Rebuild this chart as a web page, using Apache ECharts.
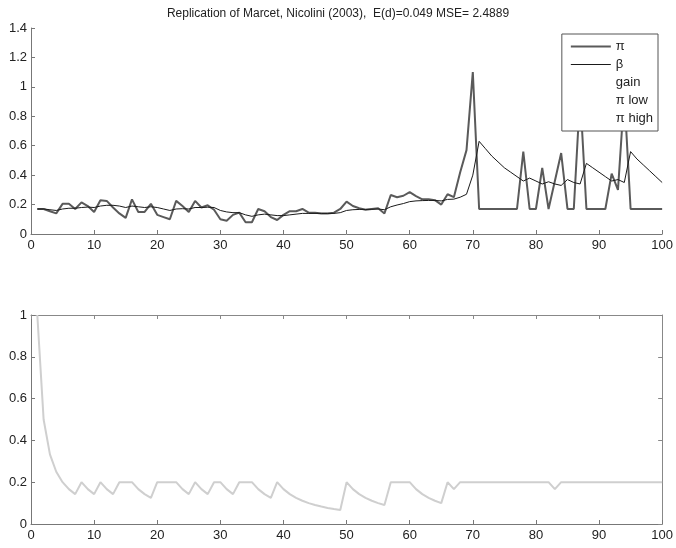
<!DOCTYPE html>
<html>
<head>
<meta charset="utf-8">
<script src="https://cdn.jsdelivr.net/npm/echarts@6/dist/echarts.min.js"></script>
<style>
html,body{margin:0;padding:0;background:#fff;}
#c{width:676px;height:548px;}
</style>
</head>
<body>
<div id="c"></div>
<script>
const titleText = 'Replication of Marcet, Nicolini (2003),  E(d)=0.049 MSE= 2.4889';
const legendNames = ['π', 'β', 'gain', 'π low', 'π high'];
const xTicks = [0, 10, 20, 30, 40, 50, 60, 70, 80, 90, 100];
const topYTicks = [0, 0.2, 0.4, 0.6, 0.8, 1, 1.2, 1.4];
const bottomYTicks = [0, 0.2, 0.4, 0.6, 0.8, 1];

const periods = Array.from({length: 100}, (_, i) => i + 1);

const piValues = [
  0.17, 0.17, 0.155, 0.14, 0.205, 0.205, 0.17, 0.215, 0.19, 0.15,
  0.23, 0.225, 0.18, 0.14, 0.11, 0.235, 0.15, 0.15, 0.205, 0.13,
  0.115, 0.10, 0.225, 0.19, 0.15, 0.225, 0.18, 0.195, 0.165, 0.10,
  0.09, 0.13, 0.145, 0.08, 0.08, 0.17, 0.155, 0.115, 0.095, 0.13,
  0.155, 0.155, 0.17, 0.145, 0.145, 0.14, 0.14, 0.145, 0.17, 0.22,
  0.19, 0.175, 0.165, 0.17, 0.175, 0.14, 0.265, 0.25, 0.26, 0.285,
  0.258, 0.236, 0.236, 0.23, 0.20, 0.27, 0.25, 0.42, 0.57, 1.10,
  0.17, 0.17, 0.17, 0.17, 0.17, 0.17, 0.17, 0.56, 0.17, 0.17,
  0.45, 0.17, 0.36, 0.55, 0.17, 0.17, 0.95, 0.17, 0.17, 0.17,
  0.17, 0.41, 0.30, 0.95, 0.17, 0.17, 0.17, 0.17, 0.17, 0.17
];

const betaValues = [
  0.17, 0.17, 0.165, 0.16, 0.17, 0.175, 0.175, 0.18, 0.183, 0.18,
  0.19, 0.195, 0.195, 0.19, 0.18, 0.19, 0.185, 0.18, 0.185, 0.18,
  0.17, 0.16, 0.17, 0.172, 0.17, 0.18, 0.18, 0.182, 0.18, 0.16,
  0.15, 0.145, 0.145, 0.13, 0.12, 0.13, 0.135, 0.13, 0.125, 0.125,
  0.13, 0.135, 0.14, 0.14, 0.14, 0.14, 0.14, 0.14, 0.145, 0.16,
  0.165, 0.167, 0.167, 0.168, 0.17, 0.165, 0.185, 0.197, 0.207, 0.22,
  0.225, 0.227, 0.228, 0.228, 0.225, 0.235, 0.237, 0.25, 0.27, 0.40,
  0.63, 0.58, 0.53, 0.49, 0.45, 0.42, 0.39, 0.36, 0.38, 0.36,
  0.34, 0.355, 0.34, 0.33, 0.37, 0.35, 0.34, 0.48, 0.45, 0.42,
  0.39, 0.36, 0.37, 0.35, 0.56, 0.51, 0.47, 0.43, 0.39, 0.35
];

const gainValues = [
  1.0, 0.5, 0.333, 0.25, 0.2, 0.1667, 0.1429, 0.2, 0.1667, 0.1429,
  0.2, 0.1667, 0.1429, 0.2, 0.2, 0.2, 0.1667, 0.1429, 0.125, 0.2,
  0.2, 0.2, 0.2, 0.1667, 0.1429, 0.2, 0.1667, 0.1429, 0.2, 0.2,
  0.1667, 0.1429, 0.2, 0.2, 0.2, 0.1667, 0.1429, 0.125, 0.2, 0.1667,
  0.1429, 0.125, 0.1111, 0.1, 0.0909, 0.0833, 0.0769, 0.0714, 0.0667, 0.2,
  0.1667, 0.1429, 0.125, 0.1111, 0.1, 0.0909, 0.2, 0.2, 0.2, 0.2,
  0.1667, 0.1429, 0.125, 0.1111, 0.1, 0.2, 0.1667, 0.2, 0.2, 0.2,
  0.2, 0.2, 0.2, 0.2, 0.2, 0.2, 0.2, 0.2, 0.2, 0.2,
  0.2, 0.2, 0.1667, 0.2, 0.2, 0.2, 0.2, 0.2, 0.2, 0.2,
  0.2, 0.2, 0.2, 0.2, 0.2, 0.2, 0.2, 0.2, 0.2, 0.2
];

const piLowValues = [];
const piHighValues = [];

const pair = (xs, ys) => xs.map((x, i) => [x, ys[i]]);

const FONT = 'Liberation Sans, Arial, Helvetica, sans-serif';
const labelStyle = {color: '#222', fontSize: 13, fontFamily: FONT};

function xAxisCfg(gridIndex, pos, showLabels, lineColor) {
  return {
    type: 'value', gridIndex, position: pos,
    min: xTicks[0], max: xTicks[xTicks.length - 1], interval: 10,
    axisLine: {show: true, onZero: false, lineStyle: {color: lineColor, width: 1}},
    axisTick: {show: true, inside: true, length: 4, lineStyle: {color: lineColor}},
    axisLabel: Object.assign({show: showLabels, margin: 5}, labelStyle),
    splitLine: {show: false}
  };
}
function yAxisCfg(gridIndex, pos, ticks, showLabels, lineColor) {
  return {
    type: 'value', gridIndex, position: pos,
    min: ticks[0], max: ticks[ticks.length - 1], interval: 0.2,
    axisLine: {show: true, onZero: false, lineStyle: {color: lineColor, width: 1}},
    axisTick: {show: true, inside: true, length: 4, lineStyle: {color: lineColor}},
    axisLabel: Object.assign({show: showLabels, margin: 4}, labelStyle),
    splitLine: {show: false}
  };
}

const chart = echarts.init(document.getElementById('c'), null, {renderer: 'canvas'});
chart.setOption({
  animation: false,
  backgroundColor: '#fff',
  title: {
    text: titleText, left: 'center', top: 3,
    textStyle: {fontSize: 12, fontWeight: 'normal', color: '#222', fontFamily: FONT}
  },
  legend: {
    orient: 'vertical', right: 18, top: 34,
    backgroundColor: '#fff', borderColor: '#555', borderWidth: 1, borderRadius: 0,
    padding: [6, 5, 6, 8], itemGap: 5, itemWidth: 40, itemHeight: 10,
    textStyle: {fontSize: 13, color: '#222', fontFamily: FONT},
    data: [
      {name: legendNames[0], itemStyle: {opacity: 0}, lineStyle: {width: 2, color: '#5a5a5a'}},
      {name: legendNames[1], itemStyle: {opacity: 0}, lineStyle: {width: 1, color: '#1a1a1a'}},
      {name: legendNames[2], icon: 'none'},
      {name: legendNames[3], icon: 'none'},
      {name: legendNames[4], icon: 'none'}
    ]
  },
  grid: [
    {left: 31, right: 11, top: 28, height: 206},
    {left: 31, right: 11, top: 315, height: 209}
  ],
  xAxis: [
    xAxisCfg(0, 'bottom', true, '#777'),
    xAxisCfg(1, 'bottom', true, '#777'),
    xAxisCfg(1, 'top', false, '#888')
  ],
  yAxis: [
    yAxisCfg(0, 'left', topYTicks, true, '#777'),
    yAxisCfg(1, 'left', bottomYTicks, true, '#777'),
    yAxisCfg(1, 'right', bottomYTicks, false, '#888')
  ],
  series: [
    {name: legendNames[0], type: 'line', xAxisIndex: 0, yAxisIndex: 0, symbol: 'none',
     data: pair(periods, piValues), lineStyle: {color: '#5a5a5a', width: 2}, itemStyle: {color: '#5a5a5a'}, z: 3},
    {name: legendNames[1], type: 'line', xAxisIndex: 0, yAxisIndex: 0, symbol: 'none',
     data: pair(periods, betaValues), lineStyle: {color: '#1a1a1a', width: 1}, itemStyle: {color: '#1a1a1a'}, z: 4},
    {name: legendNames[2], type: 'line', xAxisIndex: 1, yAxisIndex: 1, symbol: 'none',
     data: pair(periods, gainValues), lineStyle: {color: '#cfcfcf', width: 2}, itemStyle: {color: '#cfcfcf'}},
    {name: legendNames[3], type: 'line', xAxisIndex: 0, yAxisIndex: 0, symbol: 'none',
     data: piLowValues, lineStyle: {color: '#999', width: 1}},
    {name: legendNames[4], type: 'line', xAxisIndex: 0, yAxisIndex: 0, symbol: 'none',
     data: piHighValues, lineStyle: {color: '#999', width: 1}}
  ]
});
</script>
</body>
</html>
